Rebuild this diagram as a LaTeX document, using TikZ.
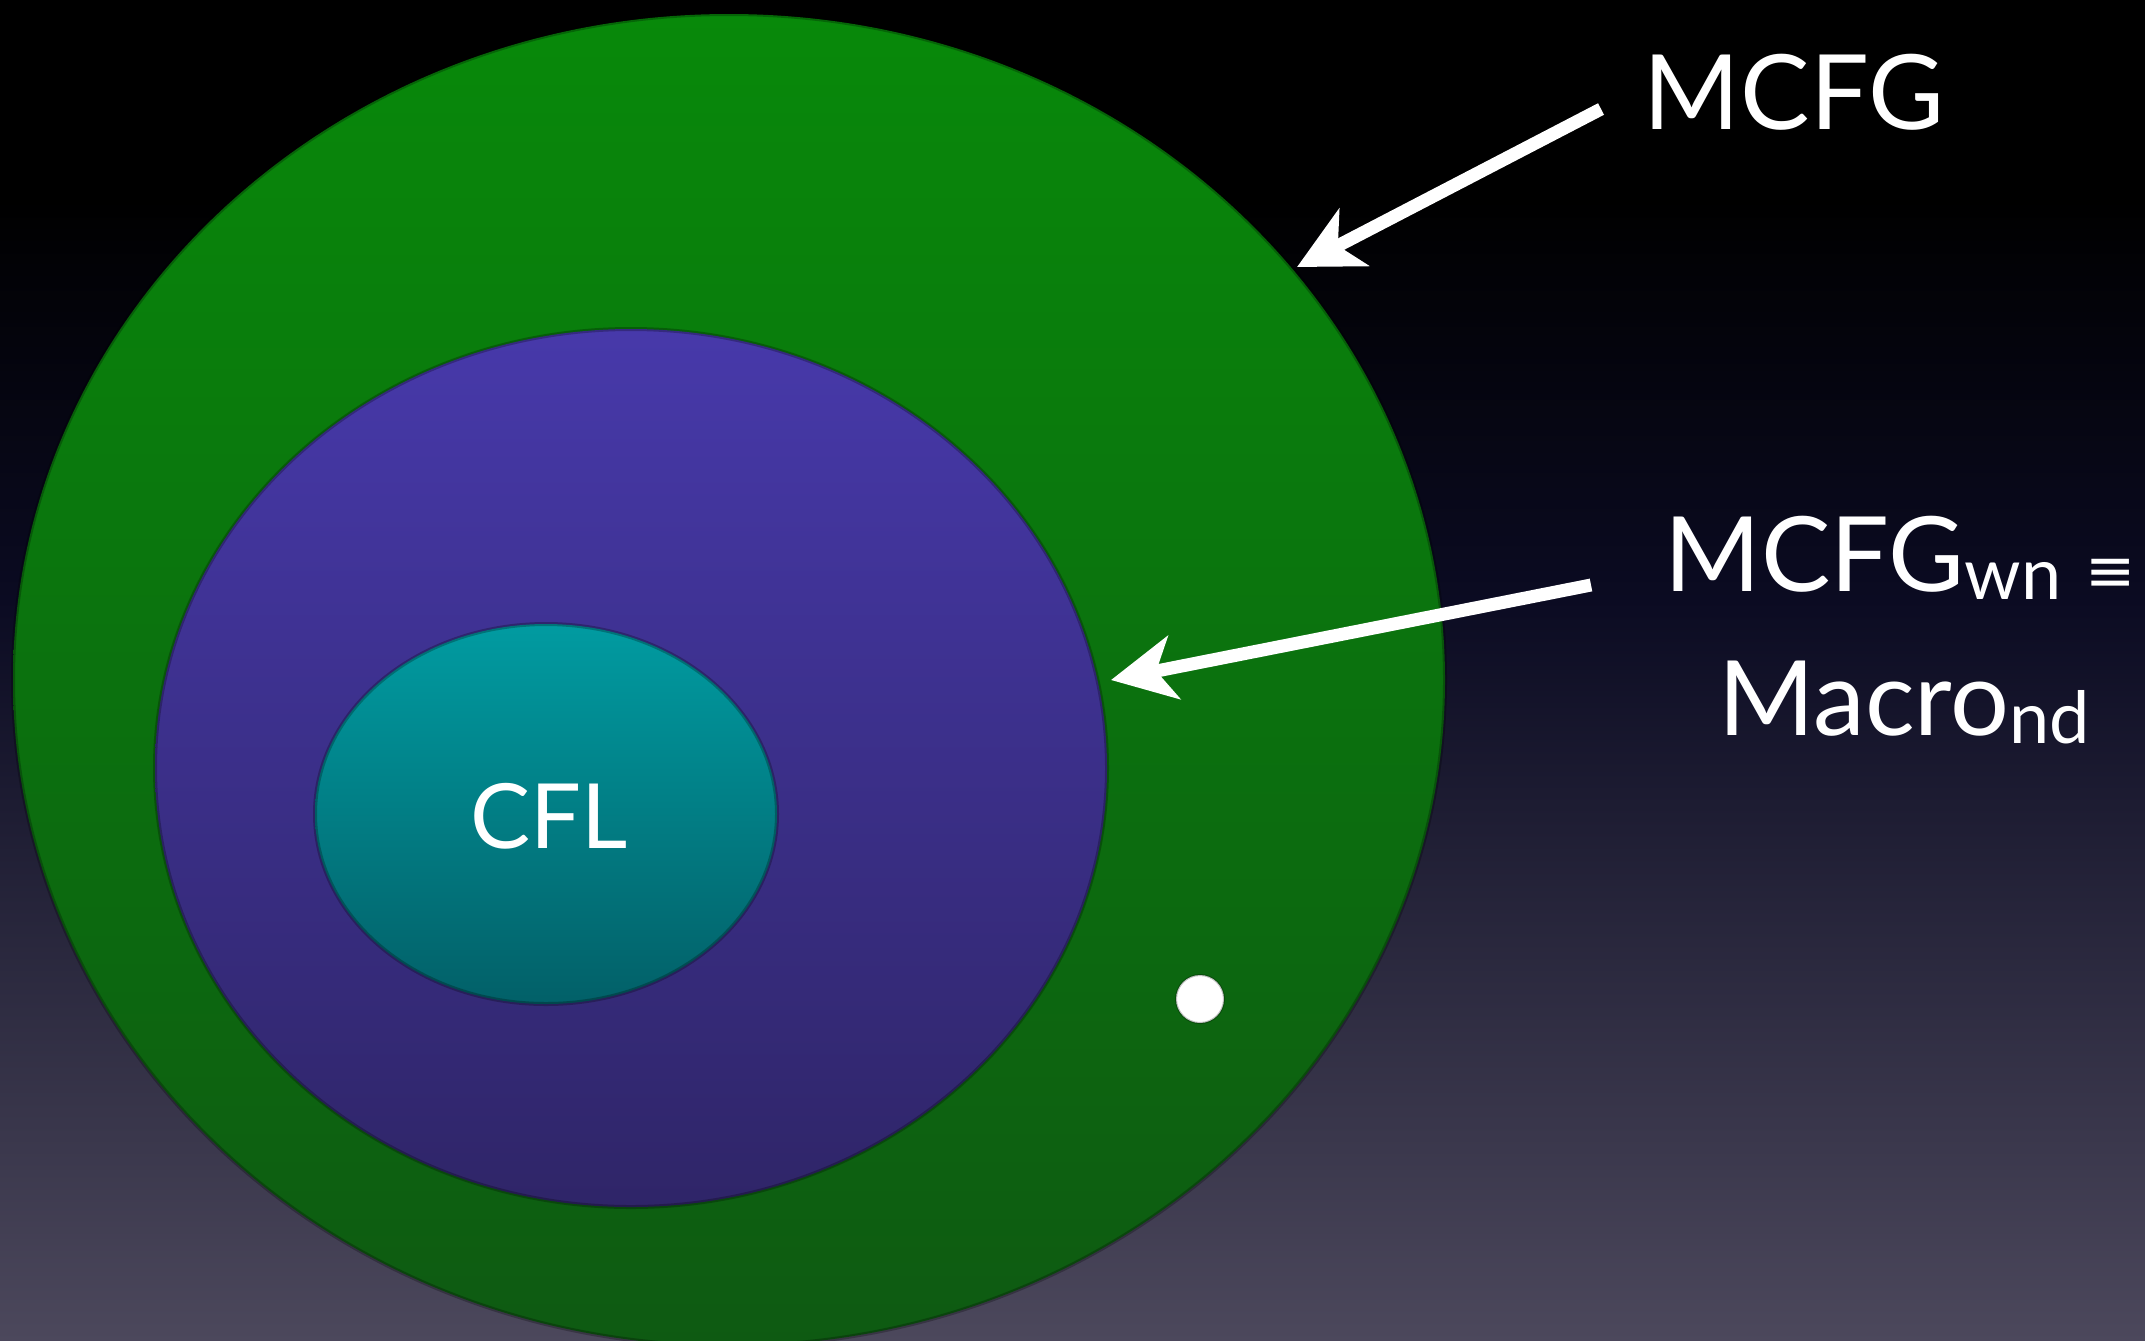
\documentclass[tikz,border=0pt]{standalone}
\usepackage{fontspec}
\setmainfont{Lato}
\newfontfamily\symf{DejaVu Sans}
\usetikzlibrary{shapes.geometric,arrows.meta}
\definecolor{bgmid}{HTML}{0B0B22}
\definecolor{bgbot}{HTML}{4C485C}
\definecolor{gtop}{HTML}{08890A}
\definecolor{gbot}{HTML}{0E5A12}
\definecolor{ptop}{HTML}{4739AA}
\definecolor{pbot}{HTML}{2F2568}
\definecolor{ttop}{HTML}{019BA1}
\definecolor{tbot}{HTML}{026068}
\begin{document}
\begin{tikzpicture}[x=0.5pt,y=-0.5pt,
  region/.style={ellipse,inner sep=0pt,outer sep=0pt,draw=black,draw opacity=0.25,line width=2pt},
  lbl/.style={text=white,inner sep=0pt,anchor=base},
  pointer/.style={draw=white,line width=6.5pt,-{Stealth[length=32pt,width=32pt,inset=9pt]}}]
\useasboundingbox (0,0) rectangle (2145,1340);
\clip (0,0) rectangle (2145,1340);
% background
\fill[black] (0,-2) rectangle (2145,200);
\fill[top color=black,bottom color=bgmid] (0,199) rectangle (2145,600);
\fill[top color=bgmid,bottom color=bgbot] (0,599) rectangle (2145,1342);
% regions
\node[region,top color=gtop,bottom color=gbot,minimum width=716pt,minimum height=666pt] (mcfg) at (729,680) {};
\node[region,top color=ptop,bottom color=pbot,minimum width=476pt,minimum height=439pt] (wn) at (631,768) {};
\node[region,top color=ttop,bottom color=tbot,minimum width=231pt,minimum height=190pt] (cfl) at (546,814) {};
\node[circle,fill=white,inner sep=0pt,minimum size=24pt,draw=black,draw opacity=0.25,line width=1pt] (dot) at (1200,999) {};
% labels
\node[lbl,font=\fontsize{45}{45}\selectfont] (cfltext) at (549,848) {CFL};
\node[lbl,font=\fontsize{52}{52}\selectfont] (mcfgtext) at (1794,129) {MCFG};
\node[lbl,font=\fontsize{52}{52}\selectfont] (wnline1) at (1900,591) {MCFG\raisebox{-4pt}{\fontsize{36}{36}\selectfont wn}\hspace{12pt}{\symf\fontsize{30}{30}\selectfont ≡}};
\node[lbl,font=\fontsize{52}{52}\selectfont] (wnline2) at (1904,735) {Macro\raisebox{-4pt}{\fontsize{36}{36}\selectfont nd}};
% arrows
\coordinate (a1s) at (1601,109);
\coordinate (a1e) at (1297,267);
\coordinate (a2s) at (1591,585);
\coordinate (a2e) at (1111,680);
\draw[pointer] (a1s) -- (a1e);
\draw[pointer] (a2s) -- (a2e);
\end{tikzpicture}
\end{document}
